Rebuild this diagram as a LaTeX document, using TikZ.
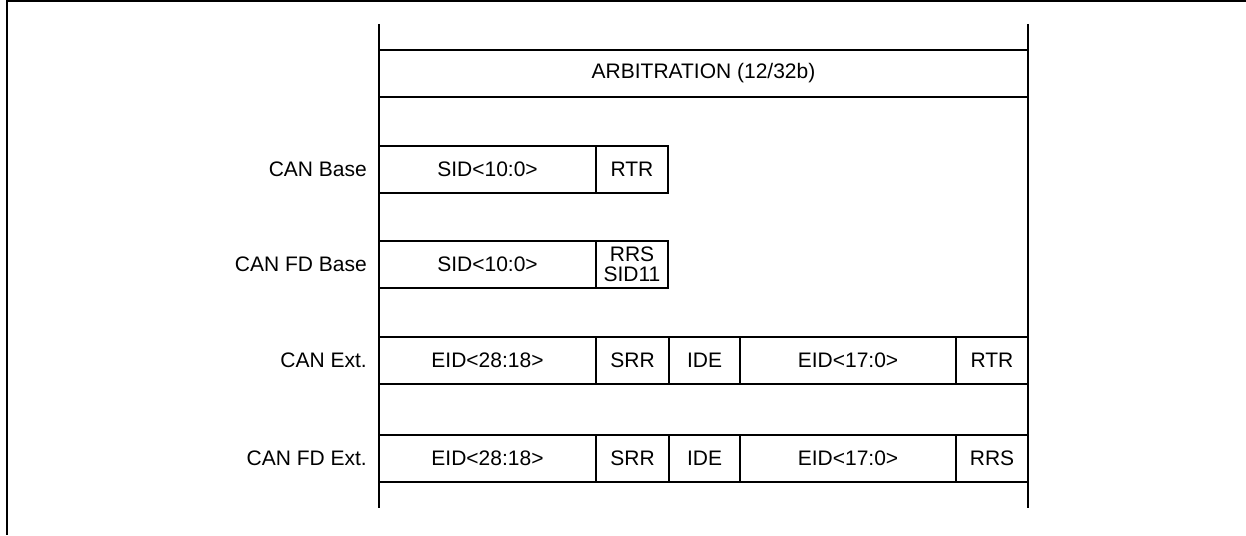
\documentclass[tikz,border=0pt]{standalone}
\usepackage{fontspec}
\setmainfont{Liberation Sans}
\begin{document}
\begin{tikzpicture}[x=1pt,y=-1pt,
  every node/.style={font=\fontsize{21}{19.5}\selectfont},
  field/.style={draw,line width=2pt,rectangle,inner sep=0pt,outer sep=0pt,minimum height=47pt,align=center},
  rowlabel/.style={anchor=east,inner sep=0pt},
  rule/.style={line width=2pt}]
\useasboundingbox (0,0) rectangle (1246,535);
% outer frame (top and left edges visible)
\draw[rule] (1246,1) -- (7,1) -- (7,535);
% main vertical lines
\coordinate (lt) at (379,24);
\coordinate (lb) at (379,508);
\coordinate (rt) at (1028,24);
\coordinate (rb) at (1028,508);
\draw[rule] (lt) -- (lb);
\draw[rule] (rt) -- (rb);
% arbitration
\node[field,minimum width=649pt] (arb) at (703.5,73.5) {ARBITRATION (12/32b)};
% CAN Base
\node[field,minimum width=217pt] (b1) at (487.5,169) {SID<10:0>};
\node[field,minimum width=72pt] (b2) at (632,169) {RTR};
\node[rowlabel] (lb1) at (367,169) {CAN Base};
% CAN FD Base
\node[field,minimum width=217pt] (f1) at (487.5,264.5) {SID<10:0>};
\node[field,minimum width=72pt] (f2) at (632,264.5) {RRS\\SID11};
\node[rowlabel] (lb2) at (367,264.5) {CAN FD Base};
% CAN Ext.
\node[field,minimum width=217pt] (e1) at (487.5,360) {EID<28:18>};
\node[field,minimum width=73pt] (e2) at (632.5,360) {SRR};
\node[field,minimum width=71pt] (e3) at (704.5,360) {IDE};
\node[field,minimum width=216pt] (e4) at (848,360) {EID<17:0>};
\node[field,minimum width=72pt] (e5) at (992,360) {RTR};
\node[rowlabel] (lb3) at (367,360) {CAN Ext.};
% CAN FD Ext.
\node[field,minimum width=217pt] (g1) at (487.5,458) {EID<28:18>};
\node[field,minimum width=73pt] (g2) at (632.5,458) {SRR};
\node[field,minimum width=71pt] (g3) at (704.5,458) {IDE};
\node[field,minimum width=216pt] (g4) at (848,458) {EID<17:0>};
\node[field,minimum width=72pt] (g5) at (992,458) {RRS};
\node[rowlabel] (lb4) at (367,458) {CAN FD Ext.};
\end{tikzpicture}
\end{document}
